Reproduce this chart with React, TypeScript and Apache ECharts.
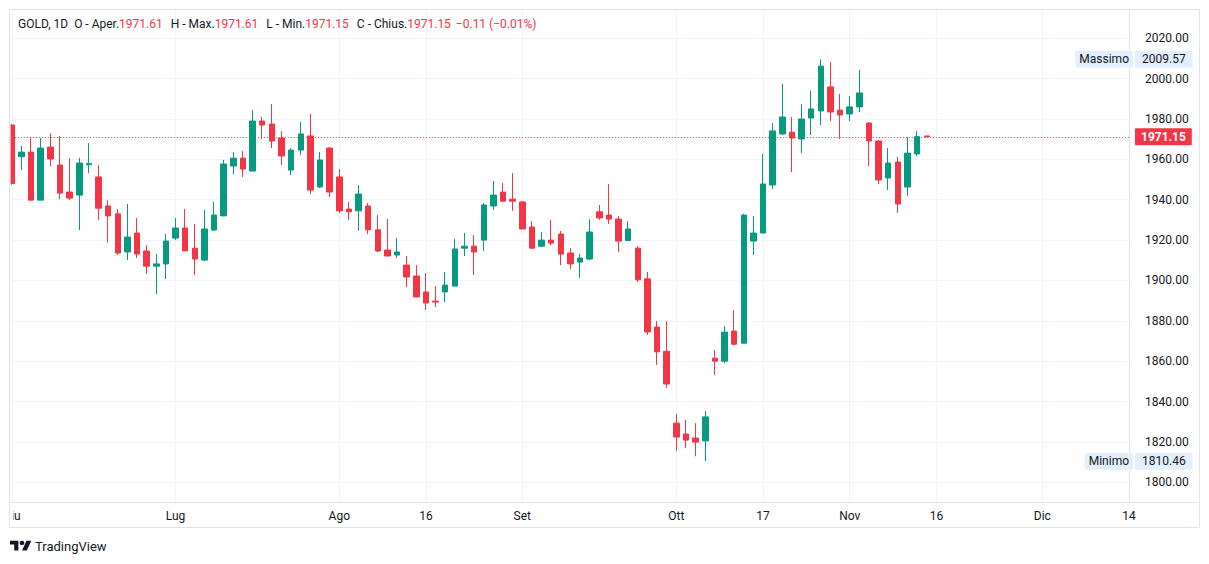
import React, { useEffect, useRef } from "react";
import * as echarts from "echarts";

// ---- data ----
const symbolName = "GOLD, 1D";
const opens = [
  1977.0, 1961.3, 1963.6, 1939.8, 1966.1, 1957.2, 1943.8, 1942.3, 1957.3, 1951.3,
  1936.9, 1933.0, 1914.1, 1923.5, 1914.6, 1907.1, 1908.2, 1921.0, 1926.0, 1916.0,
  1910.1, 1925.0, 1932.0, 1956.7, 1960.6, 1954.2, 1979.0, 1977.5, 1970.6, 1954.7,
  1964.6, 1971.6, 1946.3, 1965.6, 1951.3, 1935.4, 1934.5, 1936.9, 1925.1, 1915.1,
  1912.6, 1907.6, 1902.2, 1894.3, 1889.8, 1894.3, 1897.2, 1916.0, 1917.0, 1920.0,
  1936.9, 1943.8, 1940.3, 1938.9, 1926.5, 1917.0, 1920.0, 1923.0, 1913.6, 1909.1,
  1910.6, 1934.0, 1932.4, 1930.4, 1919.8, 1916.0, 1900.8, 1876.9, 1864.9, 1829.3,
  1823.9, 1821.9, 1820.5, 1861.5, 1860.0, 1874.9, 1868.9, 1919.5, 1923.5, 1947.3,
  1972.6, 1973.5, 1970.1, 1980.5, 1984.0, 1995.9, 1984.4, 1982.5, 1986.0, 1978.0,
  1969.1, 1950.8, 1958.7, 1946.3, 1962.7, 1971.61,
];
const highs = [
  1977.5, 1966.6, 1971.2, 1970.7, 1973.0, 1971.6, 1960.6, 1960.6, 1968.1, 1957.2,
  1939.8, 1935.4, 1937.9, 1930.9, 1917.5, 1913.1, 1923.0, 1930.9, 1935.4, 1927.9,
  1934.9, 1938.9, 1959.7, 1963.6, 1964.1, 1984.4, 1981.0, 1987.4, 1974.0, 1965.6,
  1978.5, 1982.5, 1963.6, 1966.1, 1955.2, 1938.9, 1947.3, 1938.4, 1932.4, 1930.4,
  1921.0, 1912.1, 1907.6, 1903.7, 1897.2, 1904.2, 1920.5, 1923.5, 1922.5, 1938.4,
  1949.3, 1948.3, 1953.2, 1939.3, 1929.4, 1924.0, 1929.9, 1924.5, 1916.0, 1913.1,
  1930.4, 1937.4, 1947.8, 1931.9, 1929.4, 1917.0, 1904.2, 1879.9, 1879.9, 1833.8,
  1830.9, 1829.3, 1835.3, 1865.5, 1877.4, 1885.2, 1933.0, 1931.9, 1962.7, 1978.0,
  1997.4, 1981.0, 1987.4, 1994.0, 2009.57, 2008.2, 1992.4, 1991.4, 2004.3, 1978.5,
  1969.6, 1965.6, 1961.2, 1971.1, 1974.0, 1971.61,
];
const lows = [
  1947.5, 1954.7, 1939.8, 1939.8, 1956.7, 1940.3, 1939.8, 1925.0, 1953.2, 1930.0,
  1918.7, 1912.6, 1910.1, 1911.1, 1903.2, 1893.3, 1900.7, 1920.0, 1914.6, 1902.7,
  1909.6, 1924.5, 1932.0, 1952.7, 1951.2, 1954.2, 1970.1, 1965.6, 1957.2, 1952.2,
  1962.2, 1942.8, 1945.8, 1941.3, 1933.5, 1930.0, 1924.6, 1923.1, 1914.1, 1912.1,
  1911.1, 1896.7, 1891.8, 1885.3, 1886.8, 1889.3, 1897.2, 1912.1, 1902.7, 1914.6,
  1935.0, 1939.3, 1934.5, 1925.5, 1915.6, 1916.5, 1917.5, 1907.6, 1905.6, 1901.2,
  1910.1, 1930.0, 1928.0, 1914.1, 1919.8, 1899.3, 1873.0, 1858.2, 1846.8, 1815.4,
  1816.9, 1812.9, 1810.46, 1853.1, 1859.0, 1868.0, 1868.9, 1912.6, 1923.5, 1945.3,
  1972.1, 1953.7, 1963.1, 1972.1, 1977.0, 1979.0, 1970.1, 1979.0, 1983.5, 1956.7,
  1947.8, 1944.8, 1933.5, 1941.8, 1961.7, 1971.15,
];
const closes = [
  1948.0, 1963.6, 1939.8, 1965.6, 1960.2, 1943.3, 1940.8, 1958.2, 1958.0, 1935.8,
  1932.0, 1913.6, 1921.5, 1913.1, 1907.1, 1908.2, 1919.5, 1926.0, 1914.6, 1910.6,
  1925.5, 1932.4, 1957.7, 1960.6, 1955.2, 1979.0, 1977.0, 1969.1, 1961.7, 1964.6,
  1972.6, 1944.8, 1959.7, 1943.8, 1934.5, 1934.0, 1942.8, 1925.1, 1914.6, 1912.1,
  1914.1, 1901.7, 1891.8, 1888.8, 1889.3, 1897.7, 1915.6, 1917.0, 1914.1, 1937.4,
  1942.3, 1939.3, 1939.3, 1925.5, 1916.0, 1920.0, 1918.5, 1913.1, 1908.2, 1911.1,
  1924.0, 1931.0, 1930.4, 1919.5, 1925.5, 1900.3, 1874.5, 1864.6, 1848.7, 1822.4,
  1820.9, 1819.9, 1832.4, 1860.0, 1874.4, 1868.4, 1932.4, 1923.5, 1947.8, 1974.1,
  1981.0, 1970.6, 1980.0, 1985.0, 2006.2, 1983.5, 1982.0, 1986.0, 1992.9, 1969.1,
  1949.8, 1958.2, 1937.9, 1963.1, 1971.26, 1971.15,
];
const futureSlots = 21;
const tickIndex = [0, 17, 34, 43, 53, 69, 78, 87, 96, 107, 116];
const tickText = ["Giu", "Lug", "Ago", "16", "Set", "Ott", "17", "Nov", "16", "Dic", "14"];
const priceTicks = [1800, 1820, 1840, 1860, 1880, 1900, 1920, 1940, 1960, 1980, 2000, 2020];
const yMin = 1790.22;
const yMax = 2034.02;

// ---- style ----
const UP = "#089981";
const DOWN = "#f23645";
const TEXT = "#131722";
const GRID = "#f0f3fa";
const BORDER = "#e0e3eb";
const BADGE = "#e3effd";
const FONT = "Roboto, 'Noto Sans', sans-serif";
const W = 1209;
const H = 564;

const LOGO_D = "M14 22H7V11H0V4h14v18zM28 22h-8l7.5-18h8L28 22zM24 8a4 4 0 1 1-8 0a4 4 0 1 1 8 0z";
try {
  echarts.graphic.registerShape("tvlogo", echarts.graphic.extendPath(LOGO_D, {}) as any);
} catch (e) {}

export default function App() {
  const ref = useRef<HTMLDivElement>(null);
  useEffect(() => {
    const el = ref.current;
    if (!el) return;
    const chart = echarts.init(el, null, { renderer: "svg" });
    const n = opens.length;
    const categories = Array.from({ length: n + futureSlots }, (_, i) => String(i));
    const candles = opens.map((o, i) => [o, closes[i], lows[i], highs[i]]);
    const last = n - 1;
    const lastClose = closes[last];
    const prevClose = closes[last - 1];
    const chg = lastClose - prevClose;
    const chgPct = (chg / prevClose) * 100;
    const fmt = (v: number) => v.toFixed(2);
    const sgn = (v: number) => (v < 0 ? "\u2212" : "+") + Math.abs(v).toFixed(2);
    const valColor = lastClose >= opens[last] ? UP : DOWN;
    const chgColor = chg >= 0 ? UP : DOWN;
    const isTick = (i: number) => tickIndex.indexOf(i) >= 0;
    const maxV = Math.max(...highs);
    const minV = Math.min(...lows);

    const header =
      `{s|${symbolName}}{l1|O - Aper.}{v|${fmt(opens[last])}}` +
      `{l|H - Max.}{v|${fmt(highs[last])}}` +
      `{l|L - Min.}{v|${fmt(lows[last])}}` +
      `{l|C - Chius.}{v|${fmt(lastClose)}}` +
      `{c|${sgn(chg)} (${sgn(chgPct)}%)}`;

    const rs = { fontSize: 12, fontFamily: FONT, fontWeight: "normal" as const };

    chart.setOption({
      animation: false,
      textStyle: { fontFamily: FONT },
      title: {
        left: 18,
        top: 18,
        padding: 0,
        text: header,
        textStyle: {
          fontSize: 12,
          fontWeight: "normal",
          fontFamily: FONT,
          rich: {
            s: { ...rs, color: TEXT },
            l1: { ...rs, color: TEXT, padding: [0, 0, 0, 6] },
            l: { ...rs, color: TEXT, padding: [0, 0, 0, 8] },
            v: { ...rs, color: valColor },
            c: { ...rs, color: chgColor, padding: [0, 0, 0, 5] },
          },
        },
      },
      grid: { left: 10, right: 80, top: 10, bottom: 62, containLabel: false },
      xAxis: {
        type: "category",
        data: categories,
        boundaryGap: false,
        axisLine: { show: true, lineStyle: { color: BORDER } },
        axisTick: { show: false },
        axisLabel: {
          interval: (i: number) => isTick(i),
          formatter: (v: string) => {
            const k = tickIndex.indexOf(Number(v));
            return k >= 0 ? tickText[k] : "";
          },
          color: TEXT,
          fontSize: 12,
          fontFamily: FONT,
          margin: 8,
        },
        splitLine: { show: true, interval: (i: number) => isTick(i), lineStyle: { color: GRID, width: 1 } },
      },
      yAxis: {
        type: "value",
        position: "right",
        min: yMin,
        max: yMax,
        axisLine: { show: true, lineStyle: { color: BORDER } },
        axisTick: { show: false, customValues: priceTicks },
        axisLabel: {
          customValues: priceTicks,
          formatter: (v: number) => v.toFixed(2),
          color: TEXT,
          fontSize: 12,
          fontFamily: FONT,
          margin: 16,
        },
        splitLine: { show: true, lineStyle: { color: GRID, width: 1 } },
      },
      series: [
        {
          type: "candlestick",
          data: candles,
          barWidth: 6,
          clip: true,
          itemStyle: { color: UP, color0: DOWN, borderColor: UP, borderColor0: DOWN, borderWidth: 1 },
          markLine: {
            silent: true,
            symbol: ["none", "none"],
            animation: false,
            label: { show: false },
            lineStyle: { color: DOWN, type: [1, 2], width: 1 },
            data: [{ yAxis: lastClose }],
          },
        },
      ],
    });

    const axisX = W - 80;
    const py = (v: number) => chart.convertToPixel({ yAxisIndex: 0 }, v) as number;
    const badgeFont = `12px ${FONT}`;
    const badge = (label: string, value: number) => [
      {
        type: "text",
        z: 120,
        style: {
          text: label,
          x: axisX + 4,
          y: py(value),
          align: "right",
          verticalAlign: "middle",
          font: badgeFont,
          fill: TEXT,
          backgroundColor: BADGE,
          padding: [3, 4, 2, 4],
          borderRadius: 2,
        },
      },
      {
        type: "text",
        z: 120,
        style: {
          text: fmt(value),
          x: axisX + 6,
          y: py(value),
          align: "left",
          verticalAlign: "middle",
          font: badgeFont,
          fill: TEXT,
          backgroundColor: BADGE,
          padding: [3, 7, 2, 7],
          borderRadius: 2,
        },
      },
    ];

    chart.setOption({
      graphic: [
        // mask: the pane clips the first candle and the first month label at its left edge
        { type: "rect", z: 100, silent: true, shape: { x: 0, y: 0, width: 10.6, height: 503 }, style: { fill: "#ffffff" } },
        { type: "rect", z: 100, silent: true, shape: { x: 0, y: 503, width: 13.2, height: 23 }, style: { fill: "#ffffff" } },
        {
          type: "rect",
          z: 110,
          silent: true,
          shape: { x: 9.5, y: 9.5, width: W - 19, height: 518 },
          style: { fill: "none", stroke: BORDER, lineWidth: 1 },
        },
        {
          type: "line",
          z: 110,
          silent: true,
          shape: { x1: 9.5, y1: 502.5, x2: W - 10.5, y2: 502.5 },
          style: { stroke: BORDER, lineWidth: 1 },
        },
        ...badge("Massimo", maxV),
        ...badge("Minimo", minV),
        {
          type: "text",
          z: 120,
          style: {
            text: fmt(lastClose),
            x: axisX + 6,
            y: py(lastClose),
            align: "left",
            verticalAlign: "middle",
            font: `bold 12px ${FONT}`,
            fill: "#ffffff",
            backgroundColor: DOWN,
            padding: [3, 6, 2, 6],
            borderRadius: 1,
          },
        },
        {
          type: "tvlogo",
          z: 60,
          x: 10,
          y: 538.5,
          scaleX: 0.6,
          scaleY: 0.55,
          style: { fill: TEXT },
        },
        {
          type: "text",
          z: 60,
          style: {
            text: "TradingView",
            x: 35,
            y: 546,
            align: "left",
            verticalAlign: "middle",
            font: `13px ${FONT}`,
            fill: TEXT,
          },
        },
      ],
    });

    return () => chart.dispose();
  }, []);

  return (
    <div
      ref={ref}
      style={{ position: "fixed", left: 0, top: 0, width: W, height: H, background: "#ffffff" }}
    />
  );
}
